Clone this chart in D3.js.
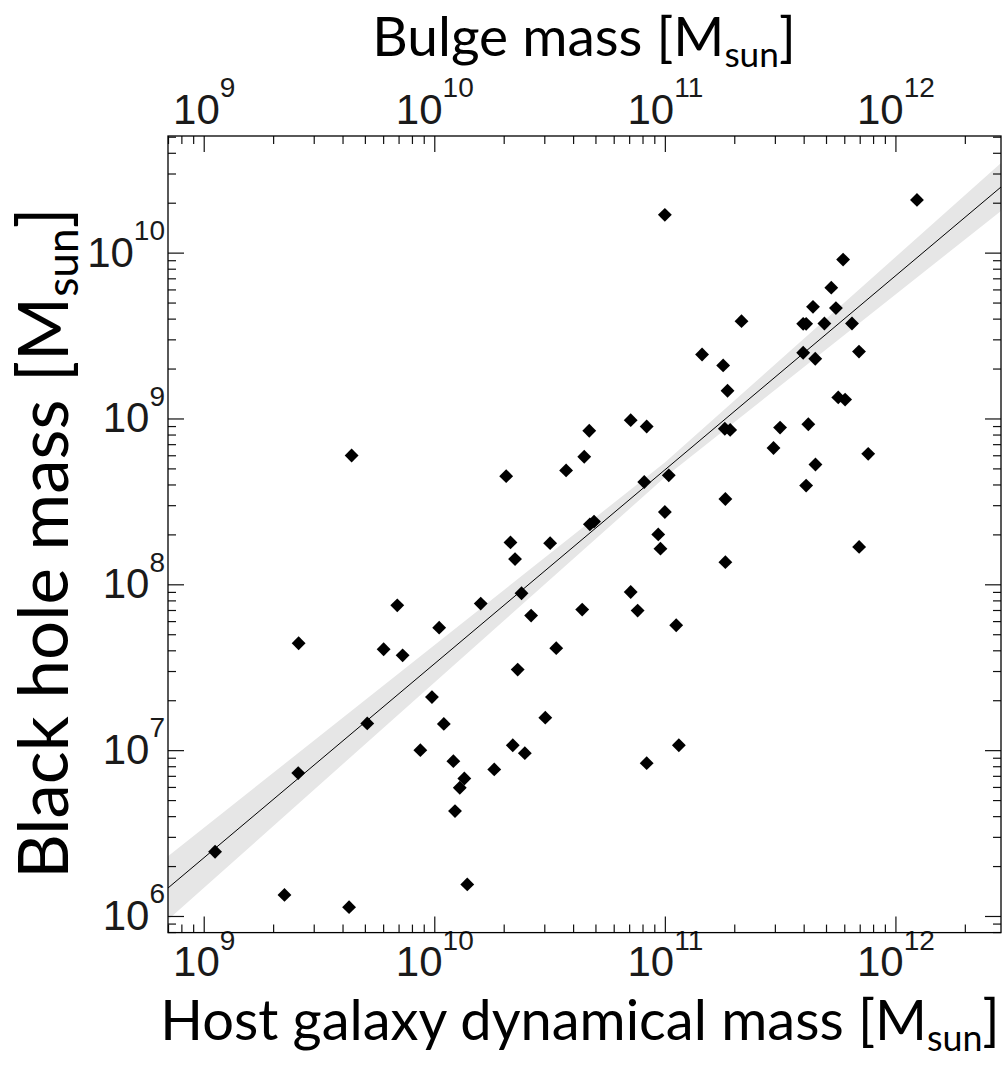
<!DOCTYPE html>
<html>
<head>
<meta charset="utf-8">
<script src="https://cdn.jsdelivr.net/npm/d3@7"></script>
<style>
  body { margin: 0; background: #fff; }
  .tick-label { font-family: "Liberation Sans", Arial, sans-serif; fill: #1a1a1a; }
  .axis-title { font-family: Lato, "Open Sans", sans-serif; fill: #000; }
</style>
</head>
<body>
<div id="chart"></div>
<script>
// Host galaxy dynamical mass [M_sun] (x) and black hole mass [M_sun] (y), one entry per galaxy
const hostMass = [
  1.12e9, 2.24e9, 2.58e9, 2.57e9, 4.27e9, 4.38e9, 5.12e9, 6.03e9, 6.91e9, 7.29e9,
  8.7e9, 9.77e9, 1.05e10, 1.10e10, 1.21e10, 1.23e10, 1.29e10, 1.35e10, 1.39e10, 1.59e10,
  1.82e10, 2.05e10, 2.14e10, 2.19e10, 2.24e10, 2.30e10, 2.39e10, 2.47e10, 2.63e10, 3.03e10,
  3.18e10, 3.38e10, 3.73e10, 4.38e10, 4.47e10, 4.70e10, 4.73e10, 4.93e10, 7.11e10, 7.11e10,
  7.62e10, 8.14e10, 8.34e10, 8.34e10, 9.36e10, 9.57e10, 1.0e11, 1.0e11, 1.04e11, 1.12e11,
  1.15e11, 1.45e11, 1.79e11, 1.87e11, 1.82e11, 1.92e11, 1.83e11, 1.83e11, 2.15e11, 2.96e11,
  3.16e11, 3.98e11, 4.10e11, 3.98e11, 4.10e11, 4.19e11, 4.39e11, 4.49e11, 4.50e11, 4.92e11,
  5.27e11, 5.52e11, 5.65e11, 6.05e11, 5.93e11, 6.48e11, 6.95e11, 6.96e11, 7.62e11, 1.24e12
];
const bhMass = [
  2.44e6, 1.34e6, 4.41e7, 7.27e6, 1.13e6, 5.98e8, 1.45e7, 4.06e7, 7.47e7, 3.73e7,
  1.0e7, 2.09e7, 5.48e7, 1.44e7, 8.58e6, 4.29e6, 5.93e6, 6.75e6, 1.55e6, 7.65e7,
  7.65e6, 4.49e8, 1.79e8, 1.07e7, 1.42e8, 3.06e7, 8.83e7, 9.59e6, 6.48e7, 1.57e7,
  1.77e8, 4.12e7, 4.86e8, 7.04e7, 5.88e8, 8.43e8, 2.30e8, 2.39e8, 9.77e8, 8.99e7,
  6.94e7, 4.14e8, 8.95e8, 8.35e6, 2.0e8, 1.64e8, 1.69e10, 2.73e8, 4.54e8, 5.66e7,
  1.07e7, 2.43e9, 2.09e9, 1.47e9, 8.67e8, 8.53e8, 3.27e8, 1.36e8, 3.86e9, 6.64e8,
  8.81e8, 3.72e9, 3.72e9, 2.49e9, 3.94e8, 9.23e8, 4.71e9, 2.29e9, 5.28e8, 3.74e9,
  6.15e9, 4.63e9, 1.34e9, 1.30e9, 9.08e9, 3.74e9, 2.53e9, 1.68e8, 6.12e8, 2.08e10
];

// fit: log MBH = fitIntercept + fitSlope * log(M / fitPivot), band from the two errors
const fitIntercept = 8.69;
const fitSlope = 1.17;
const fitPivot = 1e11;
const fitErrors = [0.045, 0.068]; // intercept, slope

// axis ranges and labelled decades
const xDomain = [7.0e8, 2.87e12];
const yDomain = [7.94e5, 5.05e10];
const xTickValues = [1e9, 1e10, 1e11, 1e12];
const xTickExponents = ['9', '10', '11', '12'];
const yTickValues = [1e6, 1e7, 1e8, 1e9, 1e10];
const yTickExponents = ['6', '7', '8', '9', '10'];

const xTitle = 'Host galaxy dynamical mass [M';
const topTitle = 'Bulge mass [M';
const yTitle = 'Black hole mass [M';

class ScatterChart {

  constructor(_config, _data) {
    this.config = {
      parentElement: _config.parentElement,
      containerWidth: _config.containerWidth || 1002,
      containerHeight: _config.containerHeight || 1066,
      margin: _config.margin || { top: 136, right: 1, bottom: 133.4, left: 168 }
    };
    this.data = _data;
    this.initVis();
  }

  initVis() {
    let vis = this;

    vis.width = vis.config.containerWidth - vis.config.margin.left - vis.config.margin.right;
    vis.height = vis.config.containerHeight - vis.config.margin.top - vis.config.margin.bottom;

    vis.xScale = d3.scaleLog().domain(xDomain).range([0, vis.width]);
    vis.yScale = d3.scaleLog().domain(yDomain).range([vis.height, 0]);

    vis.svg = d3.select(vis.config.parentElement)
      .append('svg')
      .attr('width', vis.config.containerWidth)
      .attr('height', vis.config.containerHeight);

    vis.chart = vis.svg.append('g')
      .attr('transform', `translate(${vis.config.margin.left},${vis.config.margin.top})`);

    vis.chart.append('clipPath').attr('id', 'plot-clip')
      .append('rect').attr('width', vis.width).attr('height', vis.height);

    vis.bandG = vis.chart.append('g').attr('clip-path', 'url(#plot-clip)');
    vis.axesG = vis.chart.append('g');
    vis.pointsG = vis.chart.append('g');

    // frame
    vis.chart.append('rect')
      .attr('width', vis.width)
      .attr('height', vis.height)
      .attr('fill', 'none')
      .attr('stroke', '#000')
      .attr('stroke-width', 1.3);

    // titles
    vis.addTitle(vis.svg.append('text')
      .attr('x', 584).attr('y', 56), topTitle, 55, 0.2);
    vis.addTitle(vis.svg.append('text')
      .attr('x', 580).attr('y', 1040), xTitle, 56, 0.2);
    vis.addTitle(vis.svg.append('text')
      .attr('transform', 'translate(68,543) rotate(-90)'), yTitle, 69, 0.15);
  }

  addTitle(sel, txt, size, subShift) {
    sel.attr('class', 'axis-title')
      .attr('text-anchor', 'middle')
      .attr('font-size', size);
    sel.append('tspan').text(txt);
    sel.append('tspan').attr('font-size', size * 0.64).attr('dy', size * subShift).text('sun');
    sel.append('tspan').attr('dy', -size * subShift).text(']');
  }

  updateVis() {
    let vis = this;
    vis.xValue = d => d.host;
    vis.yValue = d => d.bh;

    vis.xMinor = vis.xScale.ticks().filter(v => !xTickValues.includes(v));
    vis.yMinor = vis.yScale.ticks().filter(v => !yTickValues.includes(v));

    // fit band: envelope is linear on each side of the pivot
    const fx = [xDomain[0], fitPivot, xDomain[1]];
    vis.fitData = fx.map(m => {
      const dx = Math.log10(m / fitPivot);
      const mid = fitIntercept + fitSlope * dx;
      const err = fitErrors[0] + fitErrors[1] * Math.abs(dx);
      return { m: m, mid: Math.pow(10, mid), lo: Math.pow(10, mid - err), hi: Math.pow(10, mid + err) };
    });

    vis.renderVis();
  }

  powLabels(axisG, exps) {
    axisG.selectAll('.tick text').each(function(d, i) {
      const t = d3.select(this).text(null).attr('class', 'tick-label').attr('fill', null);
      t.append('tspan').text('10');
      t.append('tspan').attr('font-size', 28).attr('dy', '-0.95em').text(exps[i]);
    });
  }

  renderVis() {
    let vis = this;
    const majorLen = 16, minorLen = 8;

    const area = d3.area()
      .x(d => vis.xScale(d.m))
      .y0(d => vis.yScale(d.lo))
      .y1(d => vis.yScale(d.hi));
    vis.bandG.append('path')
      .datum(vis.fitData)
      .attr('d', area)
      .attr('fill', '#e6e6e6');

    const line = d3.line().x(d => vis.xScale(d.m)).y(d => vis.yScale(d.mid));
    vis.bandG.append('path')
      .datum(vis.fitData)
      .attr('d', line)
      .attr('fill', 'none')
      .attr('stroke', '#000')
      .attr('stroke-width', 1);

    const sides = [
      { axis: d3.axisBottom, scale: vis.xScale, pos: `translate(0,${vis.height})`, major: xTickValues, minor: vis.xMinor, exps: xTickExponents, pad: 14 },
      { axis: d3.axisTop, scale: vis.xScale, pos: 'translate(0,0)', major: xTickValues, minor: vis.xMinor, exps: xTickExponents, pad: 12 },
      { axis: d3.axisLeft, scale: vis.yScale, pos: 'translate(0,0)', major: yTickValues, minor: vis.yMinor, exps: yTickExponents, pad: 3 },
      { axis: d3.axisRight, scale: vis.yScale, pos: `translate(${vis.width},0)`, major: yTickValues, minor: vis.yMinor, exps: null, pad: 0 }
    ];

    sides.forEach(s => {
      const minorG = vis.axesG.append('g').attr('transform', s.pos)
        .call(s.axis(s.scale).tickValues(s.minor).tickSize(-minorLen).tickFormat(''));
      const majorG = vis.axesG.append('g').attr('transform', s.pos)
        .call(s.axis(s.scale).tickValues(s.major).tickSize(-majorLen).tickPadding(s.pad)
          .tickFormat(s.exps ? (d, i) => s.exps[i] : ''));
      [minorG, majorG].forEach(g => {
        g.select('.domain').remove();
        g.selectAll('.tick line').attr('stroke', '#111').attr('stroke-width', 1.2);
        g.attr('font-size', 42).attr('font-family', null);
      });
      if (s.exps) vis.powLabels(majorG, s.exps);
    });

    const symbol = d3.symbol().type(d3.symbolSquare).size(96);
    vis.pointsG.selectAll('.point')
      .data(vis.data)
      .join('path')
      .attr('class', 'point')
      .attr('d', symbol)
      .attr('transform', d => `translate(${vis.xScale(vis.xValue(d))},${vis.yScale(vis.yValue(d))}) rotate(45)`)
      .attr('fill', '#000');
  }
}

const galaxies = hostMass.map((m, i) => ({ host: m, bh: bhMass[i] }));
const chart = new ScatterChart({ parentElement: '#chart' }, galaxies);
chart.updateVis();
</script>
</body>
</html>
